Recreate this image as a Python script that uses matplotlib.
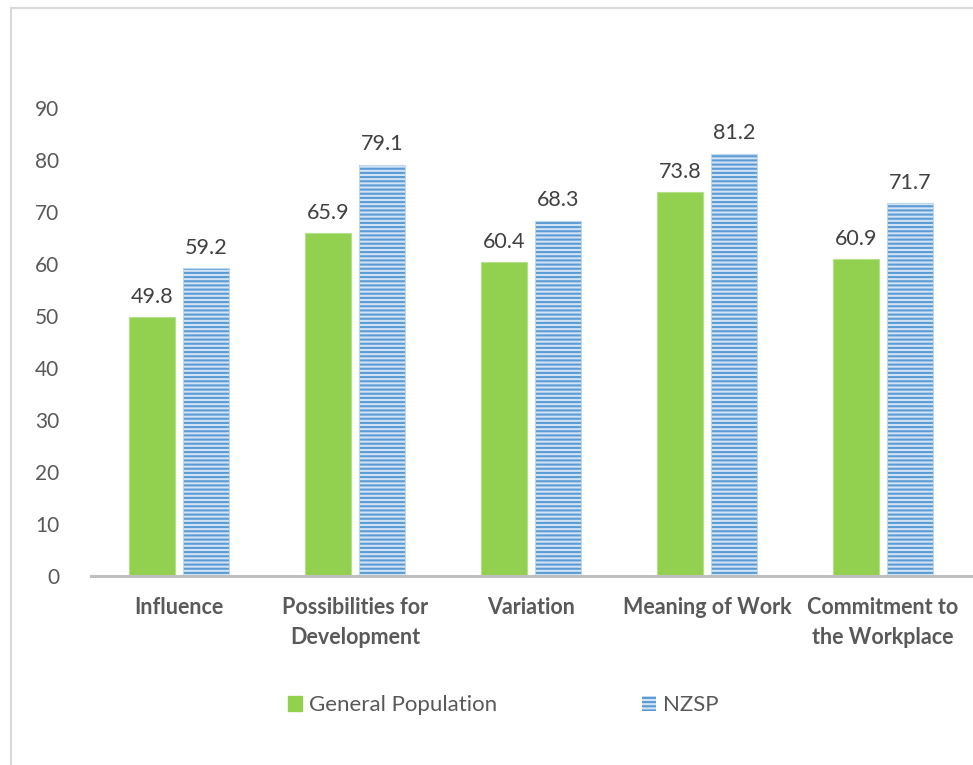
import matplotlib
matplotlib.use("Agg")
import matplotlib.pyplot as plt
from matplotlib.patches import Patch
from matplotlib.lines import Line2D
import numpy as np

categories = ["Influence", "Possibilities for\nDevelopment", "Variation",
              "Meaning of Work", "Commitment to\nthe Workplace"]
general_population = [49.8, 65.9, 60.4, 73.8, 60.9]
nzsp = [59.2, 79.1, 68.3, 81.2, 71.7]
series_names = ["General Population", "NZSP"]
yticks = [0, 10, 20, 30, 40, 50, 60, 70, 80, 90]

W, H = 973, 765
plt.rcParams['font.family'] = ['Lato', 'DejaVu Sans']
plt.rcParams['hatch.linewidth'] = 1.5

fig = plt.figure(figsize=(W / 100, H / 100), dpi=100)
ax_left, ax_right = 91 / W, 971 / W
ax_bottom, ax_top = 1 - 576 / H, 1 - 108 / H
ax = fig.add_axes([ax_left, ax_bottom, ax_right - ax_left, ax_top - ax_bottom])

x = np.arange(len(categories))
bw = 0.262
off = 0.153
green = '#92D050'
blue_bg = '#D2E3F5'
blue_line = '#5B9BD5'
text_col = '#595959'

ax.bar(x - off, general_population, bw, color=green, edgecolor='#B5E08A', linewidth=0.8)
ax.bar(x + off, nzsp, bw, color=blue_bg, edgecolor='none', linewidth=0)
ax.bar(x + off, nzsp, bw, fill=False, edgecolor=blue_line, linewidth=0, hatch='----')
ax.bar(x + off, nzsp, bw, fill=False, edgecolor='#BDD7EE', linewidth=0.8)

for xi, v in zip(x - off, general_population):
    ax.text(xi, v + 2.0, f"{v:.1f}", ha='center', va='bottom', fontsize=15.5, color='#404040')
for xi, v in zip(x + off, nzsp):
    ax.text(xi, v + 2.0, f"{v:.1f}", ha='center', va='bottom', fontsize=15.5, color='#404040')

ax.set_xlim(-0.5, len(categories) - 0.5)
ax.set_ylim(0, 90)
ax.set_yticks(yticks)
ax.set_yticklabels([str(t) for t in yticks], fontsize=15, color=text_col)
ax.set_xticks(x)
ax.set_xticklabels(categories, fontsize=15.5, fontweight='bold', color=text_col, linespacing=1.55)
ax.tick_params(axis='both', length=0)
ax.tick_params(axis='y', pad=23)
ax.tick_params(axis='x', pad=15)
for s in ['top', 'right', 'left']:
    ax.spines[s].set_visible(False)
ax.spines['bottom'].set_color('#BFBFBF')
ax.spines['bottom'].set_linewidth(2.2)

handles = [Patch(facecolor=green, edgecolor=green),
           Patch(facecolor=blue_bg, edgecolor=blue_line, linewidth=0, hatch='----')]
fig.legend(handles, series_names, loc='center left', bbox_to_anchor=(268 / W, 1 - 705 / H),
           ncol=2, frameon=False, fontsize=16, labelcolor=text_col,
           handlelength=0.65, handleheight=0.65, handletextpad=0.3, columnspacing=6.5)

# outer frame lines (left and top)
fig.add_artist(Line2D([11 / W, 11 / W], [0, 1 - 8 / H], transform=fig.transFigure, color='#D9D9D9', lw=1.5))
fig.add_artist(Line2D([11 / W, 1], [1 - 8 / H, 1 - 8 / H], transform=fig.transFigure, color='#D9D9D9', lw=1.5))

fig.savefig("out.png", dpi=100)
